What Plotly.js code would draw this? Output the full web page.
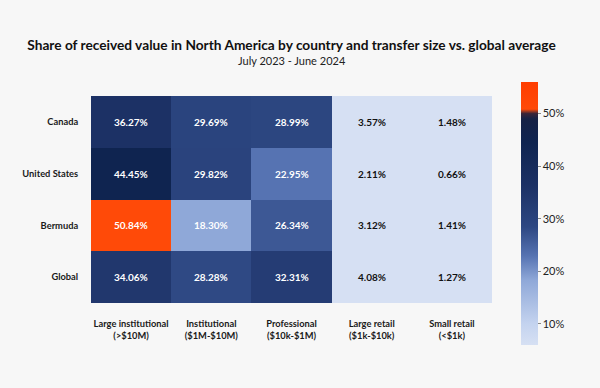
<!DOCTYPE html>
<html>
<head>
<meta charset="utf-8">
<script src="https://cdn.plot.ly/plotly-3.0.1.min.js"></script>
<style>html,body{margin:0;padding:0;background:#f7f7f7;}#chart{width:600px;height:388px;}</style>
</head>
<body>
<div id="chart"></div>
<script>
const countries = ["Canada", "United States", "Bermuda", "Global"];
const sizes = ["Large institutional<br>(>$10M)", "Institutional<br>($1M-$10M)", "Professional<br>($10k-$1M)", "Large retail<br>($1k-$10k)", "Small retail<br>(<$1k)"];
const canada = [36.27, 29.69, 28.99, 3.57, 1.48];
const unitedStates = [44.45, 29.82, 22.95, 2.11, 0.66];
const bermuda = [50.84, 18.30, 26.34, 3.12, 1.41];
const globalAvg = [34.06, 28.28, 32.31, 4.08, 1.27];
const colorTicks = [10, 20, 30, 40, 50];

const z = [canada, unitedStates, bermuda, globalAvg];
const zmin = 6, zmax = 56;
function f(v){ return (v - zmin) / (zmax - zmin); }
const colorscale = [
  [0, "#d6e0f3"],
  [f(10), "#c4d3ef"],
  [f(18.3), "#8fa8d8"],
  [f(22.95), "#5673b2"],
  [f(28.5), "#2d4782"],
  [f(36.27), "#1c3165"],
  [f(44.45), "#0f2450"],
  [f(49.0), "#162145"],
  [f(50.0), "#3a2438"],
  [f(50.84), "#ff4a08"],
  [1, "#ff3d00"]
];

const font = "Lato, 'Noto Sans', sans-serif";
const annotations = [];
z.forEach((row, i) => row.forEach((v, j) => {
  annotations.push({
    x: sizes[j], y: countries[i], xref: "x", yref: "y",
    text: "<b>" + v.toFixed(2) + "%</b>", showarrow: false,
    font: {family: font, size: 10, color: v > 10 ? "#ffffff" : "#111111"}
  });
}));
annotations.push({
  text: "July 2023 - June 2024", showarrow: false,
  xref: "paper", yref: "paper", x: 0.5, xanchor: "center",
  y: (303 - 61) / 207, yanchor: "middle",
  font: {family: font, size: 11, color: "#222"}
});

const trace = {
  type: "heatmap",
  x: sizes, y: countries, z: z,
  zmin: zmin, zmax: zmax,
  colorscale: colorscale,
  xgap: 0, ygap: 0,
  hoverinfo: "skip",
  colorbar: {
    x: 1.072, xanchor: "left", xpad: 0,
    y: 1.068, yanchor: "top", ypad: 0,
    len: 1.271, lenmode: "fraction",
    thickness: 17, outlinewidth: 0,
    tickvals: colorTicks, ticktext: colorTicks.map(t => t + "%"),
    ticks: "outside", ticklen: 3, tickcolor: "#888",
    tickfont: {family: font, size: 11, color: "#222"}
  }
};

const layout = {
  width: 600, height: 388,
  paper_bgcolor: "#f7f7f7", plot_bgcolor: "#f7f7f7",
  margin: {l: 91, r: 108, t: 96, b: 85},
  title: {
    text: "<b>Share of received value in North America by country and transfer size vs. global average</b>",
    font: {family: font, size: 13.7, color: "#111"},
    x: 0.5, xanchor: "center", xref: "paper",
    y: 1 - 45/388, yanchor: "middle", yref: "container"
  },
  xaxis: {
    type: "category", showgrid: false, zeroline: false, showline: false,
    ticks: "outside", ticklen: 12, tickcolor: "rgba(0,0,0,0)",
    tickfont: {family: font, size: 9.3, color: "#1a1a1a", weight: "bold"},
    tickangle: 0
  },
  yaxis: {
    type: "category", autorange: "reversed", showgrid: false, zeroline: false, showline: false,
    ticks: "outside", ticklen: 10, tickcolor: "rgba(0,0,0,0)",
    tickfont: {family: font, size: 9.3, color: "#1a1a1a", weight: "bold"}
  },
  annotations: annotations
};

Plotly.newPlot("chart", [trace], layout, {displayModeBar: false, staticPlot: true});
</script>
</body>
</html>
